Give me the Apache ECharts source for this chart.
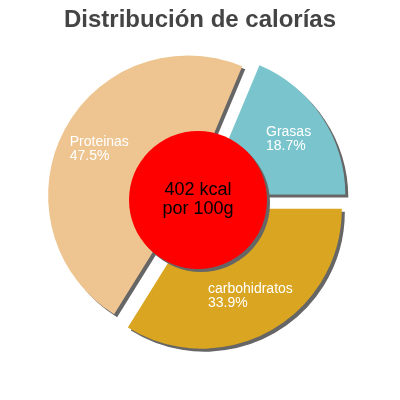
<!DOCTYPE html>
<html lang="es">
<head>
<meta charset="UTF-8">
<title>Distribución de calorías</title>
<script src="https://cdn.jsdelivr.net/npm/echarts@6.0.0/dist/echarts.min.js"></script>
<style>
  html, body { margin: 0; padding: 0; background: #fff; }
</style>
</head>
<body>
<div id="main" style="width:400px;height:400px;"></div>
<script type="text/javascript">
// chart data
const categories = ['Grasas', 'Proteinas', 'carbohidratos'];
const percentages = [18.7, 47.5, 33.9];
const centerLines = ['402 kcal', 'por 100g'];
const titleText = 'Distribución de calorías';

const sliceColors = ['#7AC5CD', '#EEC591', '#DAA520']; // same order as categories
const font = 'Liberation Sans, Arial, sans-serif';

const sliceData = categories.map((name, i) => ({
    name: name,
    value: percentages[i],
    selected: true,
    itemStyle: { color: sliceColors[i] }
}));

let options = {
    animation: false,
    title: {
        text: titleText,
        left: 'center',
        top: 3,
        textStyle: { fontFamily: font, fontSize: 24, fontWeight: 'bold', color: '#444' }
    },
    series: [
        {
            type: 'pie',
            center: [197, 200],
            radius: [54, 140],
            startAngle: 0,
            clockwise: false,
            selectedMode: 'multiple',
            selectedOffset: 10,
            emphasis: { disabled: true },
            itemStyle: {
                shadowBlur: 0,
                shadowOffsetX: 3,
                shadowOffsetY: 3,
                shadowColor: '#666'
            },
            label: {
                position: 'inside',
                formatter: p => '{t|' + p.name + '}\n{t|' + p.value + '%}',
                rich: {
                    t: { align: 'left', color: '#fff', fontFamily: font, fontSize: 14, lineHeight: 14 }
                }
            },
            labelLine: { show: false },
            data: sliceData
        },
        {
            // red circle in the middle
            type: 'pie',
            z: 5,
            center: [198, 200],
            radius: [0, 69],
            silent: true,
            emphasis: { disabled: true },
            itemStyle: {
                color: '#ff0000',
                shadowBlur: 0,
                shadowOffsetX: 3,
                shadowOffsetY: 3,
                shadowColor: '#666'
            },
            label: {
                position: 'center',
                formatter: centerLines.join('\n'),
                color: '#000',
                fontFamily: font,
                fontSize: 18,
                lineHeight: 19
            },
            labelLine: { show: false },
            data: [{ name: 'kcal', value: 1 }]
        }
    ]
};

let myChart = echarts.init(document.getElementById('main'));
myChart.setOption(options);
</script>
</body>
</html>
